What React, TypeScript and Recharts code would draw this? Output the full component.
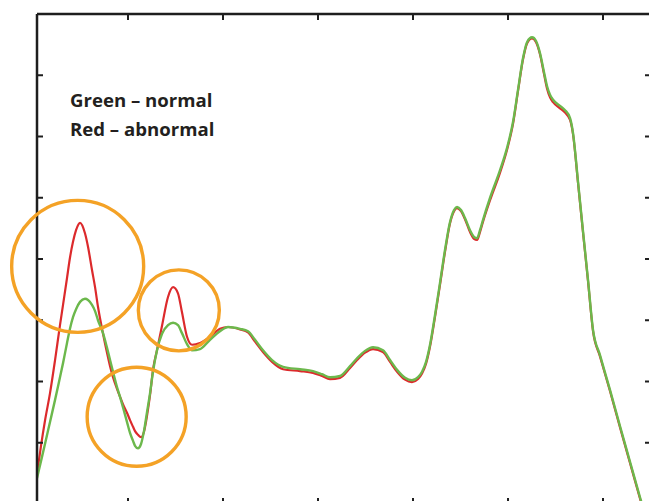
import React from "react";
import { LineChart, Line, XAxis, YAxis, ReferenceDot } from "recharts";

// x positions (arbitrary spectral units)
const xValues = [
  0.042, 0.084, 0.126, 0.179, 0.232, 0.284, 0.316, 0.358, 0.389, 0.421, 0.453, 0.495,
  0.547, 0.579, 0.621, 0.653, 0.684, 0.737, 0.779, 0.811, 0.842, 0.884, 0.916, 0.947,
  0.989, 1.021, 1.053, 1.074, 1.105, 1.137, 1.168, 1.2, 1.232, 1.263, 1.305, 1.358,
  1.421, 1.474, 1.526, 1.568, 1.621, 1.674, 1.758, 1.863, 1.968, 2.053, 2.179, 2.263,
  2.337, 2.421, 2.516, 2.632, 2.811, 2.947, 3.042, 3.126, 3.232, 3.337, 3.411, 3.495,
  3.579, 3.684, 3.758, 3.832, 3.916, 3.989, 4.053, 4.095, 4.137, 4.179, 4.232, 4.284,
  4.337, 4.389, 4.432, 4.463, 4.505, 4.547, 4.6, 4.642, 4.674, 4.705, 4.737, 4.811,
  4.916, 4.989, 5.053, 5.105, 5.158, 5.2, 5.253, 5.295, 5.337, 5.379, 5.411, 5.442,
  5.474, 5.547, 5.6, 5.653, 5.684, 5.737, 5.789, 5.842, 5.895, 5.968, 6.074, 6.179,
  6.284, 6.389, 6.453,
];

// Red – abnormal
const redValues = [
  0.49, 0.95, 1.36, 1.81, 2.35, 2.92, 3.25, 3.69, 4.02, 4.28, 4.47, 4.59,
  4.42, 4.2, 3.82, 3.54, 3.22, 2.78, 2.47, 2.25, 2.07, 1.88, 1.75, 1.63,
  1.49, 1.37, 1.26, 1.19, 1.13, 1.09, 1.18, 1.44, 1.78, 2.19, 2.51, 2.91,
  3.38, 3.54, 3.44, 3.13, 2.73, 2.6, 2.63, 2.73, 2.86, 2.89, 2.85, 2.8,
  2.65, 2.48, 2.32, 2.2, 2.17, 2.14, 2.09, 2.04, 2.06, 2.22, 2.35, 2.47,
  2.53, 2.48, 2.32, 2.16, 2.03, 1.99, 2.04, 2.13, 2.29, 2.57, 3.06, 3.58,
  4.12, 4.58, 4.78, 4.83, 4.78, 4.65, 4.44, 4.33, 4.31, 4.44, 4.61, 4.96,
  5.41, 5.78, 6.21, 6.74, 7.26, 7.52, 7.6, 7.54, 7.34, 7.02, 6.78, 6.64,
  6.56, 6.46, 6.39, 6.27, 6.04, 5.24, 4.44, 3.64, 2.82, 2.41, 1.84, 1.25,
  0.67, 0.09, -0.25,
];

// Green – normal
const greenValues = [
  0.42, 0.7, 0.98, 1.34, 1.7, 2.07, 2.3, 2.63, 2.86, 3.05, 3.18, 3.3,
  3.35, 3.33, 3.25, 3.15, 3.0, 2.79, 2.55, 2.35, 2.16, 1.91, 1.75, 1.58,
  1.34, 1.16, 1.03, 0.95, 0.91, 0.98, 1.19, 1.5, 1.81, 2.16, 2.51, 2.78,
  2.92, 2.96, 2.92, 2.79, 2.61, 2.51, 2.53, 2.68, 2.82, 2.89, 2.86, 2.82,
  2.68, 2.51, 2.35, 2.24, 2.2, 2.17, 2.12, 2.07, 2.09, 2.25, 2.38, 2.5,
  2.56, 2.51, 2.35, 2.19, 2.06, 2.02, 2.07, 2.16, 2.32, 2.6, 3.09, 3.61,
  4.15, 4.6, 4.8, 4.85, 4.8, 4.67, 4.47, 4.36, 4.34, 4.47, 4.64, 5.0,
  5.45, 5.81, 6.24, 6.76, 7.28, 7.54, 7.62, 7.56, 7.36, 7.05, 6.82, 6.68,
  6.6, 6.5, 6.43, 6.3, 6.06, 5.26, 4.46, 3.66, 2.84, 2.43, 1.86, 1.27,
  0.69, 0.11, -0.23,
];

const xTicks = [1, 2, 3, 4, 5, 6];
const yTicks = [1, 2, 3, 4, 5, 6, 7];
const xDomain = [0.042, 6.505];
const yDomain = [0, 8];

// highlighted regions (centre in data units)
const highlightX = [0.47, 1.535, 1.091];
const highlightY = [3.88, 3.162, 1.425];
const highlightR = [66, 40.5, 49.5];

const legendLines = ["Green – normal", "Red – abnormal"];

const data = xValues.map((x, i) => ({ x, red: redValues[i], green: greenValues[i] }));

const AXIS = "#1e1e1e";
const RED = "#dc2a2c";
const GREEN = "#6cb84c";
const ORANGE = "#f4a226";

const NoLabel = () => <g />;

export default function App() {
  const axisCommon = {
    stroke: AXIS,
    strokeWidth: 2.5,
    tick: NoLabel,
    tickLine: { stroke: AXIS, strokeWidth: 2 },
    tickSize: -6,
    tickMargin: 0,
    allowDataOverflow: true,
    interval: 0 as const,
  };
  return (
    <div
      style={{
        position: "absolute",
        left: 0,
        top: 0,
        width: 649,
        height: 501,
        overflow: "hidden",
        background: "#ffffff",
      }}
    >
      <LineChart
        width={660}
        height={515}
        data={data}
        margin={{ top: 13, left: 36, right: 8, bottom: 10 }}
      >
        <XAxis
          {...axisCommon}
          xAxisId="b"
          dataKey="x"
          type="number"
          domain={xDomain}
          ticks={xTicks}
          orientation="bottom"
          height={1}
        />
        <XAxis
          {...axisCommon}
          xAxisId="t"
          dataKey="x"
          type="number"
          domain={xDomain}
          ticks={xTicks}
          orientation="top"
          height={1}
        />
        <YAxis
          {...axisCommon}
          yAxisId="l"
          type="number"
          domain={yDomain}
          ticks={yTicks}
          orientation="left"
          width={1}
        />
        <YAxis
          {...axisCommon}
          yAxisId="r"
          type="number"
          domain={yDomain}
          ticks={yTicks}
          orientation="right"
          width={1}
        />
        <Line
          xAxisId="b"
          yAxisId="l"
          type="monotone"
          dataKey="red"
          stroke={RED}
          strokeWidth={2.2}
          dot={false}
          isAnimationActive={false}
        />
        <Line
          xAxisId="b"
          yAxisId="l"
          type="monotone"
          dataKey="green"
          stroke={GREEN}
          strokeWidth={2.4}
          dot={false}
          isAnimationActive={false}
        />
        {highlightX.map((hx, i) => (
          <ReferenceDot
            key={i}
            xAxisId="b"
            yAxisId="l"
            x={hx}
            y={highlightY[i]}
            r={highlightR[i]}
            fill="none"
            stroke={ORANGE}
            strokeWidth={3.4}
            ifOverflow="visible"
          />
        ))}
      </LineChart>
      <svg
        width={649}
        height={501}
        style={{ position: "absolute", left: 0, top: 0, pointerEvents: "none" }}
      >
        {legendLines.map((t, i) => (
          <text
            key={t}
            x={70}
            y={107 + i * 29}
            fontFamily="'Open Sans', sans-serif"
            fontWeight={700}
            fontSize={18.6}
            fill="#231f20"
          >
            {t}
          </text>
        ))}
      </svg>
    </div>
  );
}
